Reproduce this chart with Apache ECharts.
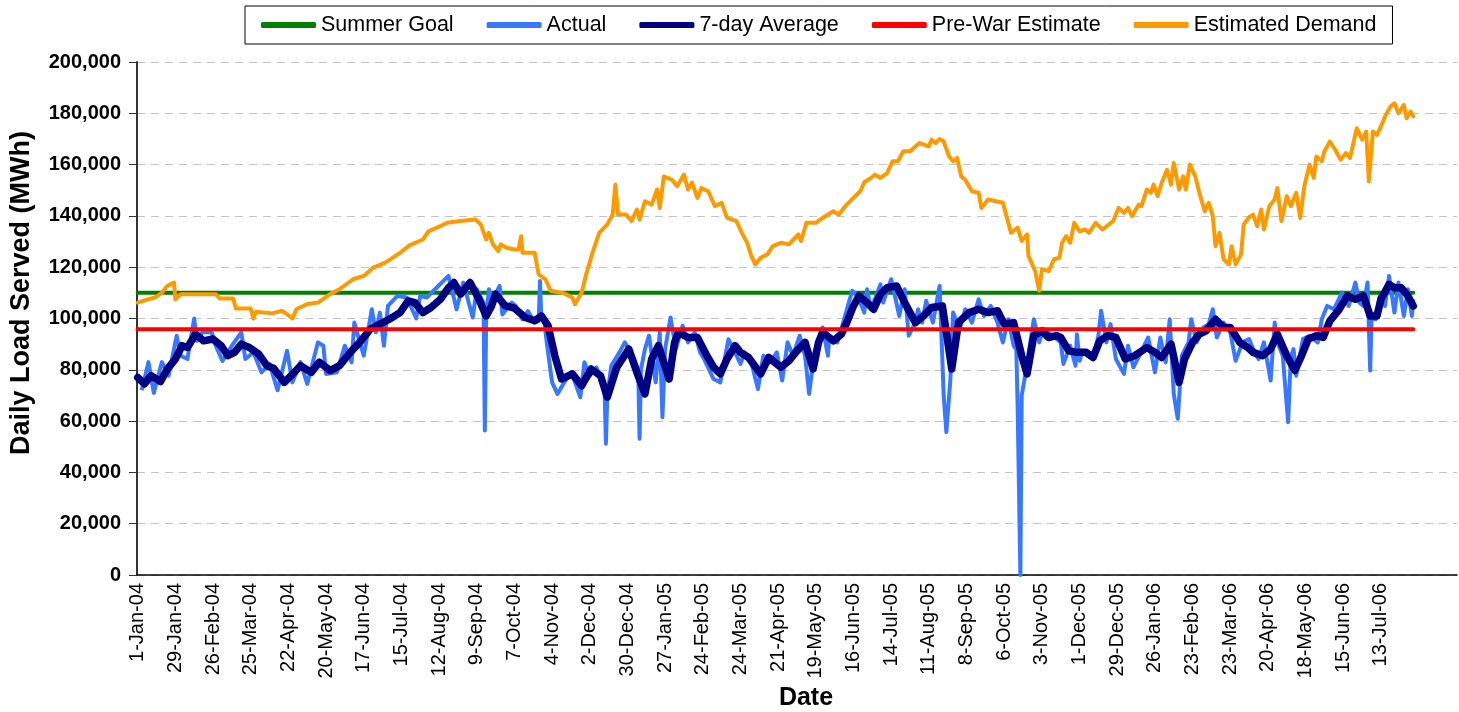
<!DOCTYPE html>
<html>
<head>
<meta charset="utf-8">
<script src="https://cdn.jsdelivr.net/npm/echarts@6.0.0/dist/echarts.min.js"></script>
<style>
  html, body { margin: 0; padding: 0; background: #fff; }
  #loadChart { width: 1459px; height: 712px; }
</style>
</head>
<body>
<div id="loadChart"></div>
<script>
// day index counted from 1-Jan-04
var dayCount = 981;
var labelStep = 28;
var lastLabelDay = 924;   // 13-Jul-06, the last date shown on the axis
var monthNames = ['Jan', 'Feb', 'Mar', 'Apr', 'May', 'Jun', 'Jul', 'Aug', 'Sep', 'Oct', 'Nov', 'Dec'];
var yTicks = [0, 20000, 40000, 60000, 80000, 100000, 120000, 140000, 160000, 180000, 200000];

var summerGoal = 110000;
var preWarEstimate = 95800;
var lastDay = 948;

var actualPoints = [
    [3, 72000], [8, 83000], [12, 71000], [18, 83000], [23, 77700], [29, 93300], [32, 85500], [37, 84200],
    [42, 100000], [44, 91300], [48, 94600], [55, 94600], [58, 89400], [63, 83500], [70, 89400], [77, 94600],
    [80, 84200], [86, 86800], [92, 79000], [98, 82300], [104, 72000], [111, 87400], [115, 75100], [121, 83000],
    [126, 74500], [134, 90700], [138, 89400], [140, 78400], [148, 79000], [154, 89400], [159, 82900], [161, 98400],
    [168, 85500], [174, 103600], [177, 94600], [180, 102300], [183, 89400], [186, 104900], [193, 108800], [200, 108200],
    [207, 100000], [210, 108800], [215, 108200], [221, 111400], [231, 116600], [237, 103600], [242, 114000], [249, 100400],
    [252, 111400], [257, 106200], [258, 56300], [259, 100000], [261, 111400], [264, 107500], [269, 112700], [271, 101600],
    [278, 106200], [281, 104900], [286, 99700], [290, 102900], [295, 98400], [298, 99000], [299, 114600], [300, 100000],
    [302, 99700], [304, 90700], [308, 75100], [312, 70600], [317, 75100], [322, 79000], [325, 75100], [329, 69300],
    [332, 82900], [336, 77700], [341, 80900], [344, 76400], [347, 72000], [348, 51200], [349, 70000], [352, 81600],
    [358, 86800], [362, 90700], [368, 85500], [372, 80000], [373, 53100], [374, 80000], [377, 88100], [380, 93300],
    [385, 75100], [388, 94600], [390, 61500], [392, 88000], [396, 100400], [400, 88100], [405, 97200], [409, 90700],
    [414, 94600], [418, 86800], [421, 84200], [428, 76400], [433, 75100], [439, 91900], [444, 86800], [448, 82300],
    [451, 86800], [456, 82900], [461, 72500], [465, 85500], [470, 82900], [475, 86800], [479, 75800], [483, 90700],
    [487, 85500], [492, 93300], [496, 85500], [499, 70600], [503, 86800], [509, 96500], [513, 85500], [514, 93300],
    [520, 90700], [525, 99700], [531, 110800], [535, 108800], [540, 102300], [542, 111400], [545, 103600], [552, 113300],
    [554, 106200], [560, 115300], [566, 101000], [570, 111400], [573, 93300], [578, 98400], [580, 103600], [583, 98400],
    [586, 106900], [591, 98400], [596, 112700], [599, 70000], [601, 55700], [604, 76400], [606, 102300], [611, 95900],
    [615, 103600], [620, 98400], [625, 107500], [629, 101000], [634, 104900], [639, 98400], [643, 90700], [647, 99700],
    [651, 89400], [653, 88000], [654, 65000], [656, 0], [657, 70000], [659, 76000], [666, 99700], [670, 90700],
    [673, 95900], [680, 93300], [686, 90700], [688, 82300], [693, 89400], [697, 81600], [698, 93900], [700, 83500],
    [702, 86800], [706, 85500], [710, 84200], [714, 93300], [716, 103000], [720, 90700], [723, 97800], [727, 84200],
    [733, 78400], [736, 89400], [740, 81000], [745, 86100], [751, 92600], [756, 79000], [760, 92600], [764, 82900],
    [767, 99700], [770, 70600], [773, 60900], [776, 85500], [781, 90700], [783, 99700], [787, 90700], [792, 96500],
    [796, 97800], [799, 103600], [802, 92600], [807, 98400], [812, 94600], [816, 83500], [821, 90700], [826, 92000],
    [830, 86800], [833, 84200], [837, 90700], [842, 75800], [845, 98400], [847, 90700], [851, 85500], [855, 59600],
    [857, 85000], [859, 88100], [861, 77700], [866, 92000], [871, 93300], [877, 90700], [880, 99700], [884, 104900],
    [889, 103600], [895, 110100], [900, 104900], [905, 114000], [908, 106200], [911, 104900], [914, 114000], [916, 79700],
    [917, 100000], [920, 99700], [923, 108800], [927, 104900], [930, 116600], [934, 102300], [937, 114000], [941, 101000],
    [944, 111400], [947, 101000], [948, 107500]
];

var averagePoints = [
    [0, 77000], [5, 74500], [10, 77700], [17, 75400], [22, 80300], [28, 84200], [33, 89400], [37, 88700],
    [43, 93900], [49, 91300], [56, 92000], [62, 89400], [67, 85500], [72, 86800], [77, 90000], [83, 88700],
    [90, 86100], [96, 81600], [101, 80600], [109, 75100], [114, 77700], [121, 81600], [129, 79000], [135, 83000],
    [143, 79700], [150, 81600], [158, 86800], [165, 90700], [173, 95900], [180, 97800], [187, 99700], [195, 102300],
    [201, 106900], [206, 106200], [212, 102300], [218, 104300], [225, 107500], [231, 112000], [235, 114000], [240, 109500],
    [247, 114000], [253, 108200], [259, 101000], [263, 104900], [266, 109500], [273, 105000], [280, 104000], [288, 100400],
    [295, 99100], [300, 101000], [305, 97200], [310, 85500], [315, 76400], [323, 78400], [330, 73800], [337, 80300],
    [344, 77700], [349, 69300], [356, 80900], [365, 88100], [371, 79000], [377, 70600], [382, 84200], [387, 89400],
    [395, 76400], [399, 90700], [402, 94600], [409, 92600], [416, 92600], [423, 85500], [428, 81000], [433, 78400],
    [438, 84200], [444, 89400], [448, 86800], [454, 84800], [463, 78400], [469, 84800], [478, 81000], [484, 83500],
    [489, 86800], [496, 90700], [502, 80300], [506, 90700], [509, 94600], [517, 91300], [523, 93900], [527, 98400],
    [532, 104900], [536, 108800], [542, 106200], [547, 103600], [552, 109500], [557, 112000], [564, 112700], [570, 106200],
    [578, 98400], [584, 101000], [590, 104300], [598, 104900], [601, 94600], [605, 80300], [610, 98400], [618, 102300],
    [625, 103600], [632, 102300], [639, 103000], [644, 97800], [651, 98400], [657, 85500], [661, 78400], [666, 93300],
    [672, 95200], [677, 92600], [683, 93300], [686, 92600], [692, 87400], [698, 86800], [705, 86800], [710, 84800],
    [715, 91300], [721, 93300], [727, 92600], [734, 84200], [741, 85500], [750, 88700], [756, 86800], [761, 84800],
    [768, 90000], [774, 75100], [778, 84200], [784, 90700], [789, 93900], [794, 95200], [801, 99700], [807, 96500],
    [812, 96500], [819, 90700], [825, 88700], [829, 86800], [836, 85500], [842, 88100], [847, 93900], [854, 85500],
    [860, 79700], [865, 85500], [870, 92000], [876, 93300], [881, 92600], [886, 99100], [893, 103600], [899, 108800],
    [905, 107500], [911, 108800], [916, 101000], [921, 101000], [924, 107500], [930, 113300], [934, 112000], [939, 112000],
    [944, 108800], [948, 104900]
];

var demandPoints = [
    [0, 106200], [8, 107500], [13, 108200], [18, 110000], [22, 112700], [27, 114000], [28, 107500], [32, 109500],
    [58, 109500], [61, 107800], [71, 107800], [73, 103900], [84, 103900], [86, 100000], [88, 102600], [100, 102000],
    [107, 103000], [111, 101700], [115, 100000], [118, 103600], [126, 105600], [134, 106200], [143, 109500], [150, 111400],
    [160, 115300], [168, 116600], [175, 119800], [184, 121800], [195, 125600], [202, 128500], [212, 130800], [216, 134000],
    [225, 136000], [230, 137300], [240, 138000], [251, 138600], [255, 136700], [259, 130800], [261, 133400], [264, 128900],
    [268, 126300], [270, 128900], [274, 127600], [280, 126900], [283, 126900], [285, 132100], [286, 125600], [295, 125600],
    [298, 117200], [303, 115300], [307, 110800], [317, 109800], [323, 108200], [325, 105600], [330, 110100], [333, 116600],
    [338, 125600], [343, 133400], [349, 136700], [353, 140500], [355, 152200], [357, 140500], [363, 140500], [367, 138000],
    [371, 142500], [373, 138600], [377, 145700], [382, 144400], [386, 150300], [388, 143100], [391, 155400], [397, 154100],
    [401, 151600], [406, 156100], [409, 150300], [412, 153000], [416, 147000], [419, 150900], [424, 149600], [429, 143800],
    [434, 145100], [438, 139200], [445, 138000], [449, 133400], [453, 129500], [456, 124400], [459, 121100], [463, 123700],
    [468, 125000], [472, 128200], [478, 129500], [484, 128900], [491, 132800], [493, 130200], [497, 137300], [504, 137300],
    [509, 139200], [517, 141800], [521, 140500], [527, 144400], [532, 147000], [537, 149600], [540, 153100], [545, 154800],
    [548, 156100], [552, 154800], [557, 156700], [561, 161300], [565, 161300], [569, 165200], [574, 165200], [581, 168400],
    [588, 167100], [590, 169700], [593, 168400], [596, 170000], [599, 169000], [603, 163200], [606, 161300], [609, 162600],
    [612, 155400], [615, 154100], [620, 149600], [625, 149000], [627, 143100], [632, 146400], [643, 145100], [649, 133400],
    [654, 135400], [657, 130200], [661, 132800], [662, 124400], [667, 118500], [670, 110800], [672, 119200], [677, 118500],
    [681, 123100], [685, 123700], [687, 129500], [690, 132100], [693, 129500], [696, 137300], [700, 134000], [704, 134700],
    [707, 133400], [712, 137300], [717, 134700], [725, 138000], [729, 143100], [733, 141200], [736, 143100], [739, 139900],
    [744, 144400], [746, 143800], [750, 150300], [753, 149000], [755, 152200], [758, 147700], [761, 152800], [765, 158000],
    [768, 152200], [770, 160600], [774, 150300], [777, 155400], [779, 150300], [782, 160000], [786, 155400], [789, 149000],
    [793, 141800], [796, 145100], [799, 139900], [801, 128200], [804, 133400], [807, 123100], [811, 121100], [813, 128200],
    [816, 121100], [820, 125000], [822, 136700], [826, 139500], [829, 140500], [832, 136000], [835, 142500], [837, 134700],
    [841, 143800], [845, 146400], [847, 150900], [850, 138000], [854, 147700], [857, 143800], [861, 149000], [864, 139200],
    [867, 151600], [871, 160000], [874, 154800], [876, 163200], [880, 161300], [882, 165200], [886, 169000], [890, 165800],
    [894, 161900], [898, 164500], [901, 162600], [906, 174200], [910, 169700], [913, 172900], [915, 153500], [918, 172900],
    [921, 171600], [924, 174900], [927, 178800], [931, 182600], [934, 183900], [937, 180000], [941, 183300], [943, 178100],
    [946, 180700], [948, 178800]
];

// category labels, one per day
var dateLabels = [];
for (var i = 0; i < dayCount; i++) {
    var d = new Date(Date.UTC(2004, 0, 1) + i * 86400000);
    dateLabels.push(d.getUTCDate() + '-' + monthNames[d.getUTCMonth()] + '-' + String(d.getUTCFullYear()).slice(2));
}

var fontName = '"Liberation Sans", Arial, sans-serif';
var loadChart = echarts.init(document.getElementById('loadChart'));

var option = {
    animation: false,
    textStyle: { fontFamily: fontName, color: '#000' },
    legend: {
        left: 245,
        top: 6,
        padding: [8, 16, 8, 16],
        itemGap: 33,
        itemWidth: 55,
        itemHeight: 6,
        icon: 'roundRect',
        borderColor: '#000',
        borderWidth: 1,
        textStyle: { fontSize: 21.5, color: '#000', fontFamily: fontName },
        data: ['Summer Goal', 'Actual', '7-day Average', 'Pre-War Estimate', 'Estimated Demand']
    },
    grid: { left: 137, right: 2, top: 62, bottom: 137 },
    // axis titles placed as text so they sit where the original has them
    graphic: [
        {
            type: 'text', x: 22, y: 293, rotation: Math.PI / 2,
            style: {
                text: 'Daily Load Served (MWh)', font: 'bold 27px ' + fontName,
                fill: '#000', align: 'center', verticalAlign: 'middle'
            }
        },
        {
            type: 'text', x: 806, y: 698,
            style: {
                text: 'Date', font: 'bold 25px ' + fontName,
                fill: '#000', align: 'center', verticalAlign: 'middle'
            }
        }
    ],
    xAxis: {
        type: 'category',
        data: dateLabels,
        axisLine: { lineStyle: { color: '#000', width: 1.5 } },
        axisTick: { interval: 0, length: 6, lineStyle: { color: '#000', width: 1.3 } },
        axisLabel: {
            interval: function (index) { return index % labelStep === 0 && index <= lastLabelDay; },
            rotate: 90, fontSize: 20, color: '#000', margin: 8
        },
        splitLine: { show: false }
    },
    yAxis: {
        type: 'value',
        min: yTicks[0],
        max: yTicks[yTicks.length - 1],
        interval: yTicks[1] - yTicks[0],
        axisLine: { show: true, lineStyle: { color: '#333', width: 2 } },
        axisTick: { show: true, length: 8, lineStyle: { color: '#333' } },
        axisLabel: {
            fontSize: 20, fontWeight: 'bold', color: '#000', margin: 16,
            formatter: function (v) { return v.toLocaleString('en-US'); }
        },
        splitLine: { lineStyle: { color: '#c4c4c4', type: [8, 6], width: 1 } }
    },
    series: [
        {
            name: 'Summer Goal', type: 'line', symbol: 'none', color: '#008000',
            lineStyle: { width: 4, cap: 'round' },
            data: [[0, summerGoal], [lastDay, summerGoal]]
        },
        {
            name: 'Actual', type: 'line', symbol: 'none', color: '#3877ff',
            lineStyle: { width: 4, join: 'round' },
            data: actualPoints
        },
        {
            name: '7-day Average', type: 'line', symbol: 'none', color: '#000080',
            lineStyle: { width: 7.5, join: 'round', cap: 'round' },
            data: averagePoints
        },
        {
            name: 'Pre-War Estimate', type: 'line', symbol: 'none', color: '#ff0000',
            lineStyle: { width: 4, cap: 'round' },
            data: [[0, preWarEstimate], [lastDay, preWarEstimate]]
        },
        {
            name: 'Estimated Demand', type: 'line', symbol: 'none', color: '#ff9900',
            lineStyle: { width: 4, join: 'round', cap: 'round' },
            data: demandPoints
        }
    ]
};

loadChart.setOption(option);
</script>
</body>
</html>
